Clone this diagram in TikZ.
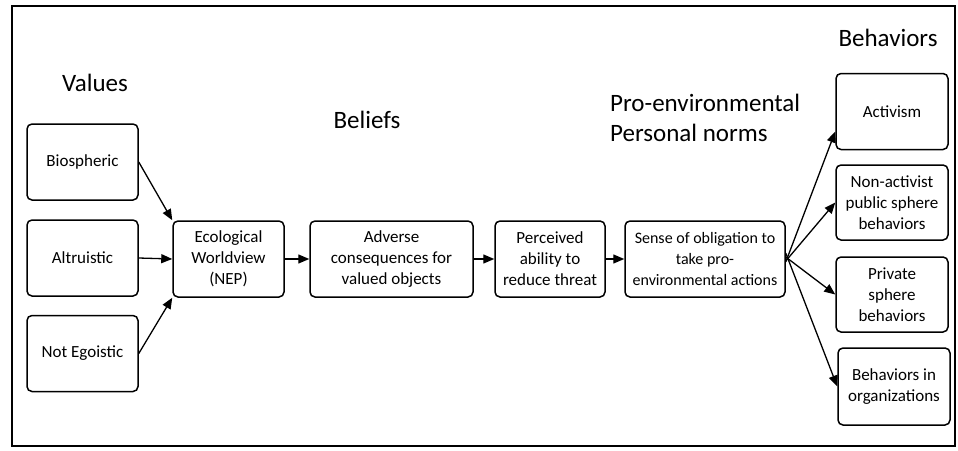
\documentclass[tikz,border=0pt]{standalone}
\usepackage{fontspec}
\setmainfont{Carlito}
\usetikzlibrary{arrows.meta}

\begin{document}
\begin{tikzpicture}[x=1pt,y=-1pt,
  box node/.style={draw,line width=1.5pt,rounded corners=5pt,align=center,inner sep=2pt,
    minimum width=111pt,minimum height=76pt,font=\fontsize{17}{21}\selectfont},
  head node/.style={font=\fontsize{25}{30}\selectfont,align=left,inner sep=0pt},
  flow/.style={-{Triangle[length=11pt,width=9pt]},line width=1.3pt}]

  \useasboundingbox (0,0) rectangle (958,450);
  \draw[line width=2.2pt] (12,6) rectangle (955,446);

  \node[head node] (values) at (95,83) {Values};
  \node[head node] (beliefs) at (367,120) {Beliefs};
  \node[head node,anchor=west] (norms) at (610,118) {Pro-environmental\\Personal norms};
  \node[head node] (behav) at (888,38) {Behaviors};

  \node[box node] (bio) at (82.5,162) {Biospheric};
  \node[box node] (alt) at (82.5,258) {Altruistic};
  \node[box node] (ego) at (82.5,353.5) {Not Egoistic};
  \node[box node] (eco) at (228.5,259) {Ecological\\Worldview\\(NEP)};
  \node[box node,minimum width=163pt] (adv) at (391.5,259) {Adverse\\consequences for\\valued objects};
  \node[box node,minimum width=110pt] (per) at (550,259) {Perceived\\ability to\\reduce threat};
  \node[box node,minimum width=160pt,font=\fontsize{16}{21}\selectfont] (sense) at (705,259)
    {Sense of obligation to\\take pro-\\environmental actions};
  \node[box node,minimum width=112pt] (act) at (892,111.5) {Activism};
  \node[box node,minimum width=112pt,minimum height=75pt] (non) at (892,202.5) {Non-activist\\public sphere\\behaviors};
  \node[box node,minimum width=112pt,minimum height=75pt] (pri) at (892,294.5) {Private\\sphere\\behaviors};
  \node[box node,minimum width=112pt,minimum height=77pt] (org) at (894,386.5) {Behaviors in\\organizations};

  \path[flow]
   (bio.east) edge (eco.north west)
   (alt.east) edge (eco.west)
   (ego.east) edge (eco.south west)
   (eco) edge (adv)
   (adv) edge (per)
   (per) edge (sense)
   ([yshift=-3pt]sense.east) edge ([yshift=-20pt]act.west)
   ([yshift=-2pt]sense.east) edge (non.west)
   ([yshift=2pt]sense.east) edge (pri.west)
   ([yshift=6pt]sense.east) edge (org.west);
\end{tikzpicture}
\end{document}
